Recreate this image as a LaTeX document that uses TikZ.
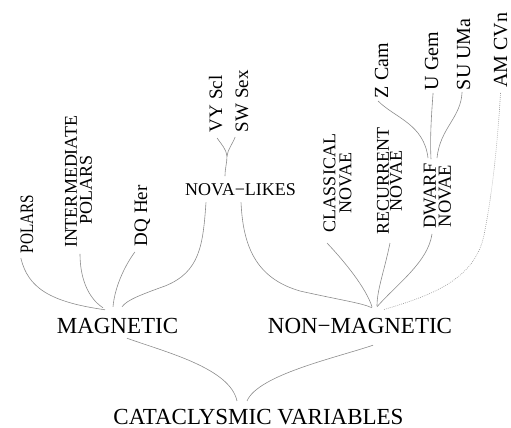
\documentclass[tikz,border=0pt]{standalone}
\usepackage{fontspec}
\setmainfont{Liberation Serif}
\usepackage{graphicx}
\begin{document}
\begin{tikzpicture}[x=1pt,y=-1pt,
  lnk/.style={draw=black!45, line width=0.6pt},
  dotlnk/.style={draw=black!40, line width=0.6pt, dash pattern=on 0.8pt off 1.2pt},
  big/.style={font=\fontsize{23}{23}\selectfont, inner sep=0pt, outer sep=0pt, text=black, anchor=base},
  lab/.style={rotate=90, inner sep=0pt, outer sep=0pt, text=black},
  fnineteen/.style={font=\fontsize{19}{19}\selectfont},
  ftwenty/.style={font=\fontsize{20}{20}\selectfont}
]
\useasboundingbox (0,0) rectangle (511,428);

% main labels
\node[big] (cv) at (258.5,424) {CATACLYSMIC VARIABLES};
\node[big] (mag) at (117.5,333) {MAGNETIC};
\node[big] (nonmag) at (360,333) {NON−MAGNETIC};
\node[font=\fontsize{18}{18}\selectfont, inner sep=0pt, outer sep=0pt, text=black, anchor=base] (nl) at (240.5,195) {NOVA−LIKES};

% rotated labels
\node[lab, fnineteen, anchor=base west] (polars) at (33,253) {\scalebox{0.8}[1]{POLARS}};
\node[lab, font=\fontsize{18}{15}\selectfont, align=center] (ip) at (78.5,182) {INTERMEDIATE\\POLARS\hspace*{16pt}};
\node[lab, fnineteen, anchor=base west] (dq) at (147,246) {DQ Her};
\node[lab, fnineteen, anchor=base west] (vy) at (222,132) {VY Scl};
\node[lab, fnineteen, anchor=base west] (sw) at (248,132) {SW Sex};
\node[lab, font=\fontsize{18}{16}\selectfont, align=center] (cn) at (337.5,183) {CLASSICAL\\NOVAE};
\node[lab, font=\fontsize{18}{12}\selectfont, align=center] (rn) at (389.5,181) {RECURRENT\\NOVAE};
\node[lab, font=\fontsize{18.5}{15}\selectfont, align=center] (dn) at (437.5,196) {DWARF\\NOVAE};
\node[lab, ftwenty, anchor=base west] (zc) at (388,98) {Z Cam};
\node[lab, ftwenty, anchor=base west] (ug) at (438,90) {U Gem};
\node[lab, ftwenty, anchor=base west] (su) at (470,90) {SU UMa};
\node[lab, ftwenty, anchor=base west] (am) at (507,88) {AM CVn};

\coordinate (jv) at (227,156);

% magnetic branches
\draw[lnk] ([xshift=-6pt,yshift=-5pt]polars.west) .. controls (28,288) and (50,302) .. ([xshift=-12.5pt,yshift=8pt]mag.north);
\draw[lnk] ([xshift=1.5pt,yshift=-6pt]ip.west) .. controls (80,278) and (88,298) .. ([xshift=-14.5pt,yshift=10pt]mag.north);
\draw[lnk] ([xshift=-7.4pt,yshift=-6pt]dq.west) .. controls (126,264) and (115,285) .. ([xshift=-4.5pt,yshift=11pt]mag.north);
\draw[lnk] ([xshift=-34.5pt,yshift=-7pt]nl.south) .. controls (203,245) and (200,272) .. (165,286) .. controls (140,295) and (127,300) .. ([xshift=4.5pt,yshift=11pt]mag.north);

% nova-likes sub-branches
\draw[lnk] ([xshift=1.5pt,yshift=-6pt]vy.west) .. controls (222,145) and (226,149) .. (jv);
\draw[lnk] ([xshift=-6.7pt,yshift=-5pt]sw.west) .. controls (232,145) and (228,149) .. (jv);
\draw[lnk] (jv) .. controls (227,163) and (225,168) .. ([xshift=-15.5pt,yshift=7pt]nl.north);

% non-magnetic branches
\draw[lnk] ([xshift=0.5pt,yshift=-7pt]nl.south) .. controls (243,245) and (255,278) .. (300,291) .. controls (340,300) and (362,303) .. ([xshift=12pt,yshift=10pt]nonmag.north);
\draw[lnk] ([xshift=-10.5pt,yshift=-11pt]cn.west) .. controls (345,262) and (366,288) .. ([xshift=12pt,yshift=11pt]nonmag.north);
\draw[lnk] ([xshift=0.5pt,yshift=-8.5pt]rn.west) .. controls (384,272) and (377,290) .. ([xshift=17pt,yshift=12pt]nonmag.north);
\draw[lnk] ([xshift=-5.5pt,yshift=-5.6pt]dn.west) .. controls (428,262) and (398,283) .. ([xshift=17pt,yshift=11pt]nonmag.north);
\draw[dotlnk] ([yshift=-5pt]am.west) .. controls (497,150) and (492,195) .. (484,235) .. controls (475,280) and (430,296) .. ([xshift=23pt,yshift=8pt]nonmag.north);

% dwarf novae sub-branches
\draw[lnk] ([xshift=-3.4pt,yshift=-3pt]zc.west) .. controls (395,118) and (424,124) .. ([xshift=-9.5pt,yshift=5.6pt]dn.east);
\draw[lnk] ([xshift=1.6pt,yshift=-3pt]ug.west) .. controls (431,120) and (430,140) .. ([xshift=-6.5pt,yshift=4.6pt]dn.east);
\draw[lnk] ([xshift=-1.4pt,yshift=-2pt]su.west) .. controls (461,118) and (440,128) .. ([xshift=-0.5pt,yshift=5.6pt]dn.east);

% to cataclysmic variables
\draw[lnk] ([xshift=9.5pt,yshift=-5pt]mag.south) .. controls (165,352) and (230,368) .. ([xshift=-21.5pt,yshift=7.8pt]cv.north);
\draw[lnk] ([xshift=13pt,yshift=-12pt]nonmag.south) .. controls (335,358) and (258,375) .. ([xshift=-11.5pt,yshift=7.8pt]cv.north);
\end{tikzpicture}
\end{document}
